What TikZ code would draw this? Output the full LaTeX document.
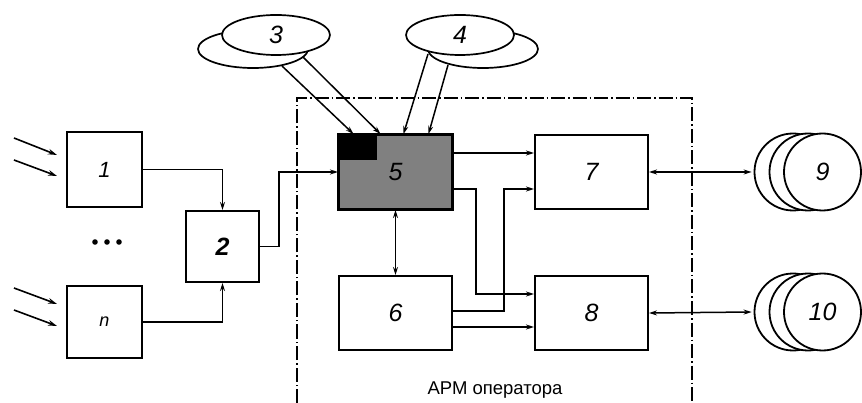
\documentclass[tikz,border=0pt]{standalone}
\usepackage{fontspec}
\setmainfont{Liberation Sans}
\usetikzlibrary{shapes.geometric,arrows.meta,calc}
\tikzset{
  blk/.style={draw, line width=2pt, inner sep=0pt, minimum width=113pt, minimum height=74pt, font=\fontsize{25}{29}\selectfont\itshape},
  sblk/.style={blk, minimum width=75pt, minimum height=75pt, font=\fontsize{22}{26}\selectfont\itshape},
  conn/.style={line width=1.5pt, -{Stealth[length=8pt,width=5pt]}},
  bconn/.style={line width=1.5pt, {Stealth[length=8pt,width=5pt]}-{Stealth[length=8pt,width=5pt]}},
  inarr/.style={line width=1.6pt, -{Stealth[length=9pt,width=5.5pt]}},
  disk/.style={draw, circle, line width=1.8pt, fill=white, minimum size=77pt, inner sep=0pt, font=\fontsize{25}{29}\selectfont\itshape},
  ell/.style={draw, ellipse, line width=1.7pt, fill=white, minimum width=108pt, minimum height=40pt, inner sep=0pt, font=\fontsize{25}{29}\selectfont\itshape},
  frame/.style={line width=1.4pt, dash pattern=on 14pt off 3pt on 1.5pt off 3pt}
}
\begin{document}
\begin{tikzpicture}[x=1pt,y=-1pt]
\useasboundingbox (0,0) rectangle (862,403);
% frame
\draw[frame] (297,403) -- (297,98) -- (692,98) -- (692,403);
\node[font=\fontsize{18.5}{22}\selectfont] (apm) at (495,390) {АРМ оператора};
% input boxes
\node[sblk] (b1) at (104.5,169.5) {1};
\node[sblk, minimum height=72pt, font=\fontsize{18}{21}\selectfont\itshape] (bn) at (104.5,322) {n};
\node[sblk, minimum width=73pt, minimum height=71pt, font=\fontsize{25}{29}\selectfont\bfseries\itshape] (b2) at (222.5,246.5) {2};
\fill (95,242) circle (2.8pt) (107,242) circle (2.8pt) (119,242) circle (2.8pt);
% input arrows
\coordinate (i1a) at (14,138); \coordinate (i1at) at (57,155);
\coordinate (i1b) at (14,160); \coordinate (i1bt) at (57,176);
\coordinate (ina) at (14,288); \coordinate (inat) at (57,304);
\coordinate (inb) at (14,310); \coordinate (inbt) at (57,326);
\draw[inarr] (i1a) -- (i1at);
\draw[inarr] (i1b) -- (i1bt);
\draw[inarr] (ina) -- (inat);
\draw[inarr] (inb) -- (inbt);
% main blocks
\node[blk, fill=black!50] (b5) at (395.5,172) {};
\fill[black] (b5.north west) rectangle ++(39,26);
\draw[line width=2pt] (b5.north west) rectangle (b5.south east);
\node[font=\fontsize{25}{29}\selectfont\itshape] (l5) at (b5.center) {5};
\node[blk] (b7) at (591.5,172) {7};
\node[blk] (b6) at (395.5,313) {6};
\node[blk] (b8) at (591.5,313) {8};
% disks
\node[disk] (d9a) at (793,172) {};
\node[disk] (d9b) at (808,172) {};
\node[disk] (d9) at (822.5,172) {9};
\node[disk] (d10a) at (793,312) {};
\node[disk] (d10b) at (808,312) {};
\node[disk] (d10) at (822.5,312) {10};
% ellipses
\node[ell, minimum width=110pt, minimum height=38pt] (e3b) at (253,49) {};
\node[ell] (e3) at (276,35) {3};
\node[ell, minimum width=110pt, minimum height=38pt] (e4b) at (483,49) {};
\node[ell] (e4) at (460,35) {4};
% connectors left
\draw[conn] (b1.east) -| (b2.north);
\draw[conn] (bn.east) -| (b2.south);
\draw[conn] (b2.east) -- ++(19,0) |- (b5.west);
% ellipse connectors
\coordinate (s3a) at (282,66);
\coordinate (s3b) at (303,57);
\coordinate (s4a) at (428,54);
\coordinate (s4b) at (448,65);
\draw[conn] (s3a) -- ([xshift=-42pt]b5.north);
\draw[conn] (s3b) -- ([xshift=-15pt]b5.north);
\draw[conn] (s4a) -- ([xshift=8pt]b5.north);
\draw[conn] (s4b) -- ([xshift=33pt]b5.north);
% inner connectors
\draw[conn] ([yshift=19pt]b5.east) -- ([yshift=19pt]b7.west);
\draw[conn] ([yshift=-17pt]b5.east) -- ++(23,0) |- ([yshift=19pt]b8.west);
\draw[conn] ([yshift=2pt]b6.east) -- ++(51,0) |- ([yshift=-17pt]b7.west);
\draw[conn] ([yshift=-14pt]b6.east) -- ([yshift=-14pt]b8.west);
\draw[bconn] (b5.south) -- (b6.north);
\draw[bconn] (b7.east) -- ([xshift=-2pt]d9a.west);
\draw[bconn] (b8.east) -- ([xshift=-2pt]d10a.west);
\end{tikzpicture}
\end{document}
